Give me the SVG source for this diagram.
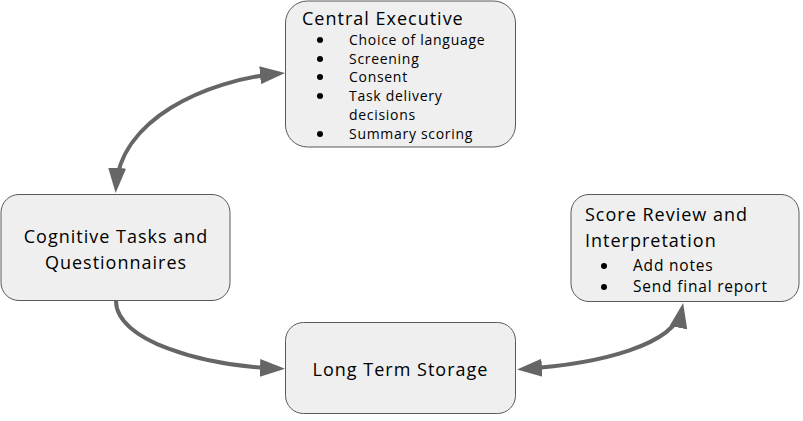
<svg xmlns="http://www.w3.org/2000/svg" width="803" height="421" viewBox="0 0 803 421">
<style>
.node{fill:#efefef;stroke:#595959;stroke-width:1}
.t{font-family:"Open Sans","Liberation Sans",sans-serif;fill:#000}
.big{font-size:18px;letter-spacing:1px}
.sm{font-size:14px;letter-spacing:0.7px}
.md{font-size:15.5px;letter-spacing:0.8px}
.c{text-anchor:middle}
.edge{fill:none;stroke:#666;stroke-width:4}
</style>
<defs>
<marker id="ah" markerUnits="userSpaceOnUse" markerWidth="26" markerHeight="20" viewBox="0 0 26 20" refX="19" refY="10" orient="auto-start-reverse">
<path d="M0,1 L25,10 L0,19 Z" fill="#666"/>
</marker>
</defs>
<rect width="803" height="421" fill="#fff"/>
<g id="connectors">
<path class="edge" d="M116,187 C120,120 205,80 279,73.5" marker-start="url(#ah)" marker-end="url(#ah)"/>
<path class="edge" d="M116,301 C116,340 200,366 279,368.5" marker-end="url(#ah)"/>
<path class="edge" d="M523,369 C600,364 675,345 682,309" marker-start="url(#ah)" marker-end="url(#ah)"/>
</g>
<g id="central-executive">
<rect class="node" x="285.5" y="1" width="230" height="146" rx="22"/>
<text class="t big" x="302" y="25">Central Executive</text>
<g class="t sm">
<circle cx="320" cy="40" r="3"/><text x="349" y="45">Choice of language</text>
<circle cx="320" cy="59" r="3"/><text x="349" y="64">Screening</text>
<circle cx="320" cy="77" r="3"/><text x="349" y="82">Consent</text>
<circle cx="320" cy="96" r="3"/><text x="349" y="101">Task delivery</text>
<text x="349" y="120">decisions</text>
<circle cx="320" cy="134" r="3"/><text x="349" y="139">Summary scoring</text>
</g>
</g>
<g id="cognitive-tasks">
<rect class="node" x="1" y="194.5" width="229" height="106" rx="18"/>
<text class="t big c" x="116" y="243">Cognitive Tasks and</text>
<text class="t big c" x="116" y="269">Questionnaires</text>
</g>
<g id="score-review">
<rect class="node" x="571" y="194.5" width="228" height="107" rx="18"/>
<text class="t big" x="585" y="221">Score Review and</text>
<text class="t big" x="585" y="247">Interpretation</text>
<g class="t md">
<circle cx="604" cy="266" r="3"/><text x="633" y="271">Add notes</text>
<circle cx="604" cy="287" r="3"/><text x="633" y="292">Send final report</text>
</g>
</g>
<g id="long-term-storage">
<rect class="node" x="285.5" y="322.5" width="230" height="91" rx="18"/>
<text class="t big c" x="400.5" y="376">Long Term Storage</text>
</g>
</svg>
